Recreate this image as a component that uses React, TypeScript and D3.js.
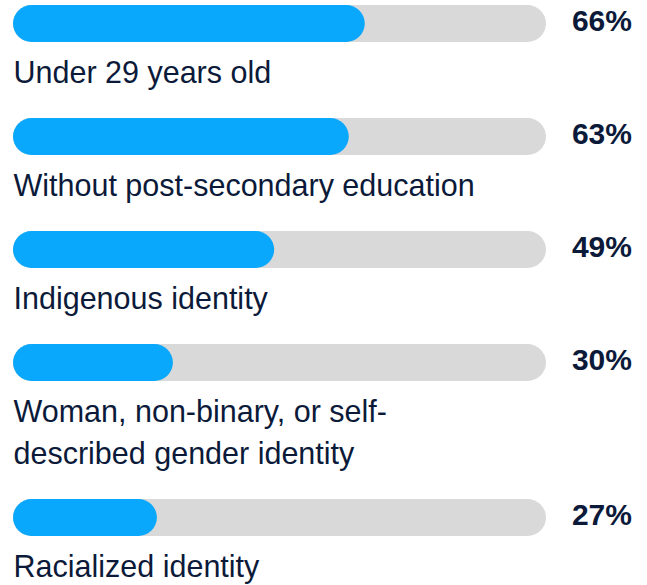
import React from "react";
import * as d3 from "d3";

const categories: string[][] = [
  ["Under 29 years old"],
  ["Without post-secondary education"],
  ["Indigenous identity"],
  ["Woman, non-binary, or self-", "described gender identity"],
  ["Racialized identity"],
];
const values: number[] = [66, 63, 49, 30, 27];

const W = 647;
const H = 585;
const BAR_H = 37;
const LINE_H = 42;
const ROW_GAP = 71;

export default function App() {
  const x = d3.scaleLinear().domain([0, 100]).range([13, 546]);
  const tops: number[] = [];
  let acc = 5;
  categories.forEach((lines) => {
    tops.push(acc);
    acc += ROW_GAP + lines.length * LINE_H;
  });
  const font = "'Liberation Sans', Arial, sans-serif";
  return (
    <svg
      width={W}
      height={H}
      style={{ position: "absolute", left: 0, top: 0, background: "#fff" }}
    >
      {categories.map((lines, i) => {
        const t = tops[i];
        return (
          <g key={i}>
            <rect
              x={x(0)}
              y={t}
              width={x(100) - x(0)}
              height={BAR_H}
              rx={BAR_H / 2}
              fill="#d9d9d9"
            />
            <rect
              x={x(0)}
              y={t}
              width={x(values[i]) - x(0)}
              height={BAR_H}
              rx={BAR_H / 2}
              fill="#0aa8fc"
            />
            <text
              x={632}
              y={t + 26}
              textAnchor="end"
              fontFamily={font}
              fontWeight="bold"
              fontSize={30}
              fill="#0c1a3a"
            >
              {values[i]}%
            </text>
            {lines.map((ln, j) => (
              <text
                key={j}
                x={13.5}
                y={t + 78 + j * LINE_H}
                fontFamily={font}
                fontSize={30.5}
                fill="#0c1a3a"
              >
                {ln}
              </text>
            ))}
          </g>
        );
      })}
    </svg>
  );
}
